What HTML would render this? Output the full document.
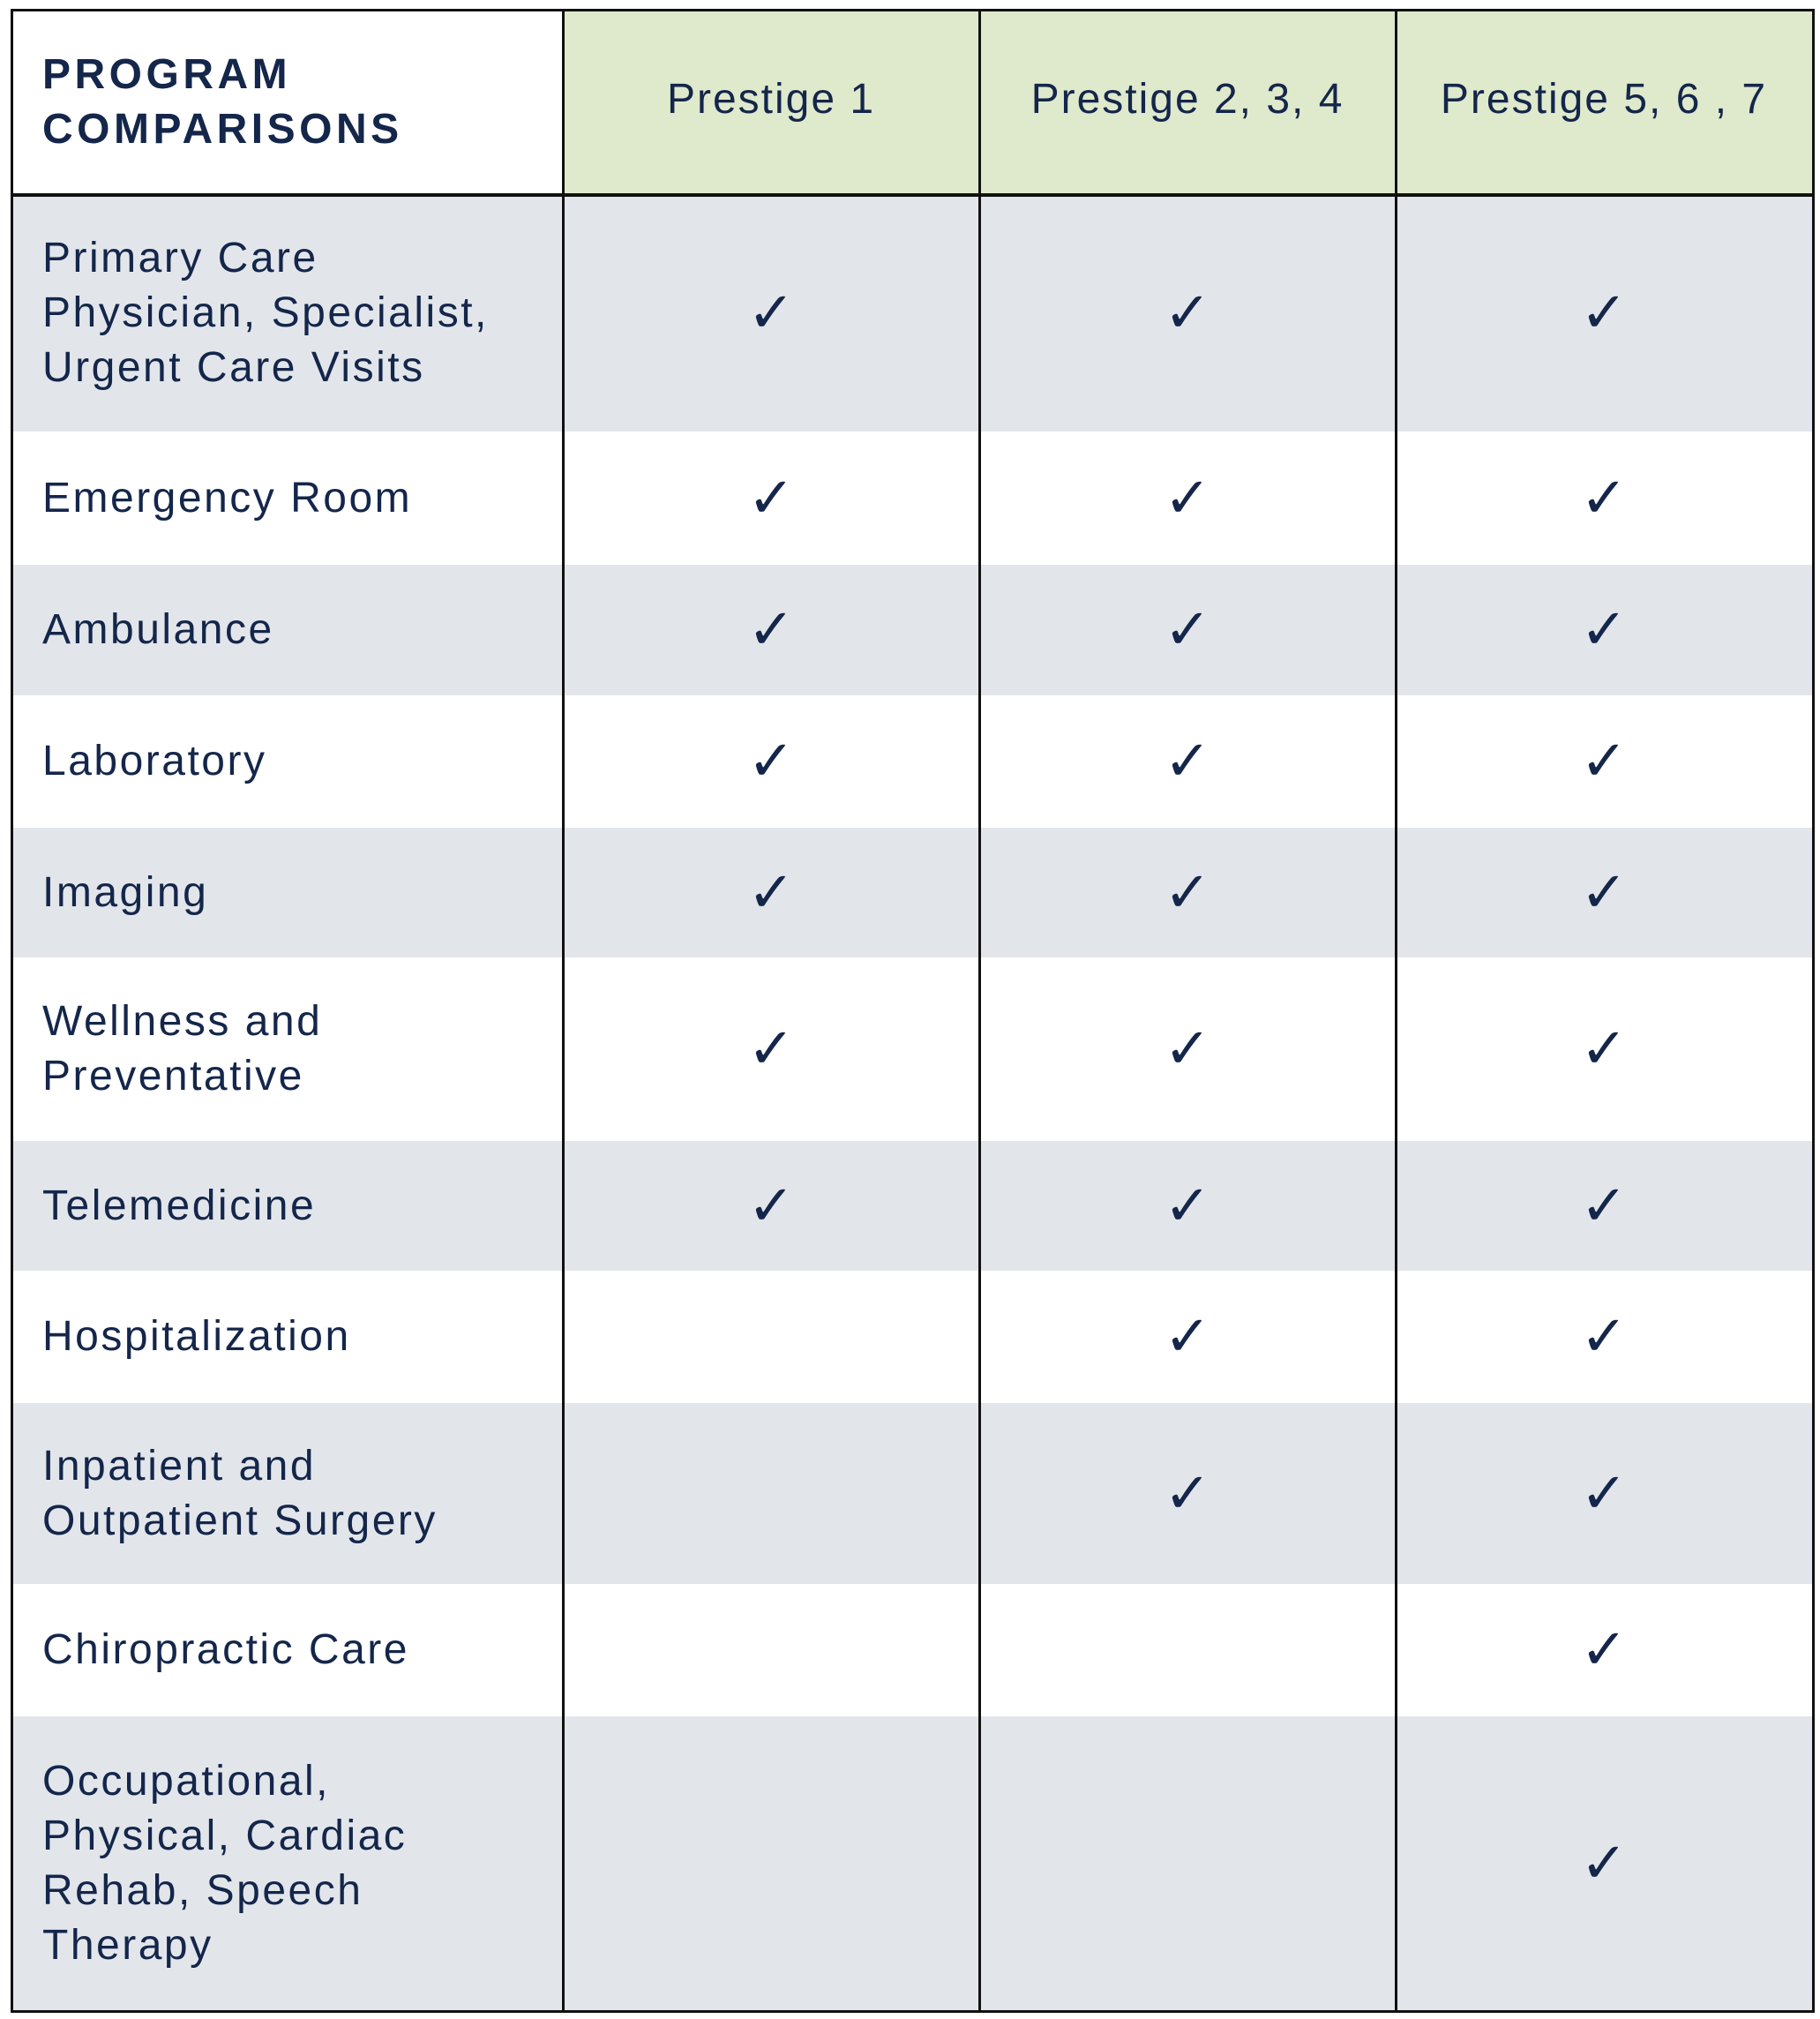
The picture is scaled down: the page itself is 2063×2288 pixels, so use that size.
<!DOCTYPE html>
<html><head><meta charset="utf-8">
<style>
html,body{margin:0;padding:0;background:#fff;}
body{width:2063px;height:2288px;position:relative;overflow:hidden;font-family:"Liberation Sans","DejaVu Sans",sans-serif;color:#14264a;}
.row{position:absolute;left:13px;width:2042px;}
.cell{position:absolute;display:flex;align-items:center;box-sizing:border-box;}
.lbl{left:48px;width:580px;font-size:48px;line-height:62px;letter-spacing:2.5px;}
.chk{justify-content:center;font-family:"DejaVu Sans",sans-serif;font-size:64px;font-weight:100;}
.vl{position:absolute;top:12px;height:2266px;width:3px;background:#111;}
.hd{font-size:48px;letter-spacing:2px;justify-content:center;}
</style></head>
<body>
<div style="position:absolute;left:0;top:0;width:2063px;height:2288px;">
  <div class="row" style="top:12px;height:208px;background:#fff;">
    <div style="position:absolute;left:625px;top:0;width:1417px;height:208px;background:#dfe9cc;"></div>
  </div>
  <div class="cell" style="left:48px;top:12px;height:208px;width:580px;font-weight:bold;font-size:48px;line-height:62px;letter-spacing:4.5px;">PROGRAM<br>COMPARISONS</div>
  <div class="cell hd" style="left:638px;top:12px;width:472px;height:200px;">Prestige 1</div>
  <div class="cell hd" style="left:1110px;top:12px;width:472px;height:200px;">Prestige 2, 3, 4</div>
  <div class="cell hd" style="left:1582px;top:12px;width:472px;height:200px;">Prestige 5, 6 , 7</div>
  <div id="rows"></div>
  <div style="position:absolute;left:13px;top:219px;width:2042px;height:4px;background:#111;"></div>
  <div style="position:absolute;left:12px;top:10px;width:2039px;height:2265px;border:3px solid #111;"></div>
  <div class="vl" style="left:637px;"></div>
  <div class="vl" style="left:1109px;"></div>
  <div class="vl" style="left:1581px;"></div>
</div>
<script>
const features = ["Primary Care<br>Physician, Specialist,<br>Urgent Care Visits","Emergency Room","Ambulance","Laboratory","Imaging","Wellness and<br>Preventative","Telemedicine","Hospitalization","Inpatient and<br>Outpatient Surgery","Chiropractic Care","Occupational,<br>Physical, Cardiac<br>Rehab, Speech<br>Therapy"];
const rowBounds = [220,489,640,788,938,1085,1293,1440,1590,1795,1945,2278];
const prestige1 = [1,1,1,1,1,1,1,0,0,0,0];
const prestige234 = [1,1,1,1,1,1,1,1,1,0,0];
const prestige567 = [1,1,1,1,1,1,1,1,1,1,1];
const colX = [[638,472],[1110,472],[1582,472]];
const container = document.getElementById('rows');
features.forEach((f,i)=>{
  const top = rowBounds[i], h = rowBounds[i+1]-rowBounds[i];
  const r = document.createElement('div');
  r.className='row';
  r.style.top=top+'px'; r.style.height=h+'px';
  r.style.background = i%2===0 ? '#e2e6eb' : '#ffffff';
  
  
  container.appendChild(r);
  const l = document.createElement('div');
  l.className='cell lbl';
  l.style.top=top+'px'; l.style.height=h+'px';
  l.innerHTML=f;
  
  
  container.appendChild(l);
  [prestige1,prestige234,prestige567].forEach((s,c)=>{
    if(!s[i]) return;
    const k = document.createElement('div');
    k.className='cell chk';
    k.style.left=colX[c][0]+'px'; k.style.width=colX[c][1]+'px';
    k.style.top=(top)+'px'; k.style.height=h+'px';
    k.textContent='✓';
    
    
    container.appendChild(k);
  });
});
</script>
</body></html>
